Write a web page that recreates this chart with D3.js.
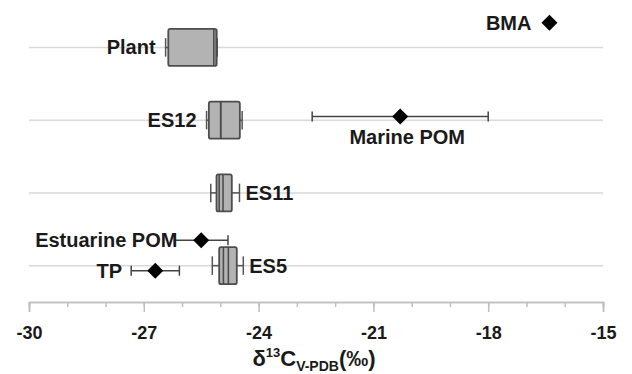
<!DOCTYPE html>
<html>
<head>
<meta charset="utf-8">
<script src="https://cdn.jsdelivr.net/npm/d3@7"></script>
<style>
  body { margin: 0; background: #fff; }
  text { font-family: "Liberation Sans", Arial, sans-serif; font-weight: bold; fill: #1a1a1a; }
</style>
</head>
<body>
<div id="chart"></div>
<script>
// box plots (δ13C, ‰)
const boxCats = ['Plant', 'ES12', 'ES11', 'ES5'];
const boxMin = [-26.43, -25.36, -25.25, -25.21];
const boxQ1 = [-26.36, -25.30, -25.10, -25.03];
const boxMedian = [-25.17, -24.99, -25.03, -24.92];
const boxMean = [-25.10, -24.99, -24.93, -24.79];
const boxQ3 = [-25.10, -24.49, -24.70, -24.57];
const boxMax = [-25.08, -24.43, -24.50, -24.40];

// end members (mean ± sd)
const pointNames = ['BMA', 'Marine POM', 'Estuarine POM', 'TP'];
const pointMean = [-16.4, -20.3, -25.5, -26.7];
const pointSd = [0, 2.3, 0.7, 0.63];
const pointRow = [-0.34, 0.95, 2.65, 3.07];

const majorTicks = [-30, -27, -24, -21, -18, -15];

const width = 632, height = 374;
const svg = d3.select('#chart').append('svg')
  .attr('width', width)
  .attr('height', height);

const x = d3.scaleLinear().domain([-30, -15]).range([29, 603]);
const y = d3.scaleLinear().domain([-0.5, 3.5]).range([11, 302]);
const boxH = 37;

// grid lines
svg.append('g').selectAll('line')
  .data(boxCats)
  .enter().append('line')
  .attr('x1', x(-30)).attr('x2', x(-15))
  .attr('y1', (d, i) => y(i)).attr('y2', (d, i) => y(i))
  .attr('stroke', '#d9d9d9').attr('stroke-width', 1.5);

// axis
const minorAxis = d3.axisBottom(x).tickValues(d3.range(-30, -14)).tickSize(5).tickFormat('');
const majorAxis = d3.axisBottom(x).tickValues(majorTicks).tickSize(10).tickPadding(14).tickFormat(d3.format('d'));
const gMinor = svg.append('g').attr('transform', `translate(0,${y(3.5)})`).call(minorAxis);
const gMajor = svg.append('g').attr('transform', `translate(0,${y(3.5)})`).call(majorAxis);
[gMinor, gMajor].forEach(g => {
  g.select('.domain').attr('stroke', '#bfbfbf').attr('stroke-width', 1.5);
  g.selectAll('.tick line').attr('stroke', '#bfbfbf').attr('stroke-width', 1.5);
});
gMajor.selectAll('.tick text')
  .style('font-size', '18px')
  .style('font-family', '"Liberation Sans", Arial, sans-serif')
  .style('font-weight', 'bold')
  .attr('fill', '#1a1a1a')
  .text(d => d3.format('d')(d).replace('−', '-'));

// axis title
const title = svg.append('text')
  .attr('x', 314).attr('y', 366)
  .attr('text-anchor', 'middle')
  .style('font-size', '22px');
title.append('tspan').text('δ');
title.append('tspan').attr('dy', -9).style('font-size', '13px').text('13');
title.append('tspan').attr('dy', 9).text('C');
title.append('tspan').attr('dy', 5).style('font-size', '14px').text('V-PDB');
title.append('tspan').attr('dy', -5).text('(‰)');

// boxes
const boxes = svg.append('g').selectAll('g')
  .data(boxCats)
  .enter().append('g');

boxes.append('line')
  .attr('x1', (d, i) => x(boxMin[i])).attr('x2', (d, i) => x(boxMax[i]))
  .attr('y1', (d, i) => y(i)).attr('y2', (d, i) => y(i))
  .attr('stroke', '#555').attr('stroke-width', 1.5);

[boxMin, boxMax].forEach(arr => {
  boxes.append('line')
    .attr('x1', (d, i) => x(arr[i])).attr('x2', (d, i) => x(arr[i]))
    .attr('y1', (d, i) => y(i) - boxH / 4).attr('y2', (d, i) => y(i) + boxH / 4)
    .attr('stroke', '#555').attr('stroke-width', 1.5);
});

boxes.append('rect')
  .attr('x', (d, i) => x(boxQ1[i]))
  .attr('width', (d, i) => x(boxQ3[i]) - x(boxQ1[i]))
  .attr('y', (d, i) => y(i) - boxH / 2)
  .attr('height', boxH)
  .attr('rx', 2)
  .attr('fill', '#b3b3b3')
  .attr('stroke', '#4d4d4d').attr('stroke-width', 1.8);

[boxMedian, boxMean].forEach(arr => {
  boxes.append('line')
    .attr('x1', (d, i) => x(arr[i])).attr('x2', (d, i) => x(arr[i]))
    .attr('y1', (d, i) => y(i) - boxH / 2).attr('y2', (d, i) => y(i) + boxH / 2)
    .attr('stroke', '#4d4d4d').attr('stroke-width', 1.6);
});

const boxSide = ['left', 'left', 'right', 'right'];
boxes.append('text')
  .attr('x', (d, i) => boxSide[i] === 'left' ? x(boxMin[i]) - 10 : x(boxMax[i]) + 6)
  .attr('y', (d, i) => y(i))
  .attr('dominant-baseline', 'central')
  .attr('text-anchor', (d, i) => boxSide[i] === 'left' ? 'end' : 'start')
  .style('font-size', '20px')
  .text(d => d);

// end-member points
const pts = svg.append('g').selectAll('g')
  .data(pointNames)
  .enter().append('g');

const withErr = pts.filter((d, i) => pointSd[i] > 0);
withErr.append('line')
  .attr('x1', d => x(pointMean[pointNames.indexOf(d)] - pointSd[pointNames.indexOf(d)]))
  .attr('x2', d => x(pointMean[pointNames.indexOf(d)] + pointSd[pointNames.indexOf(d)]))
  .attr('y1', d => y(pointRow[pointNames.indexOf(d)]))
  .attr('y2', d => y(pointRow[pointNames.indexOf(d)]))
  .attr('stroke', '#444').attr('stroke-width', 1.5);
[-1, 1].forEach(s => {
  withErr.append('line')
    .attr('x1', d => x(pointMean[pointNames.indexOf(d)] + s * pointSd[pointNames.indexOf(d)]))
    .attr('x2', d => x(pointMean[pointNames.indexOf(d)] + s * pointSd[pointNames.indexOf(d)]))
    .attr('y1', d => y(pointRow[pointNames.indexOf(d)]) - 5)
    .attr('y2', d => y(pointRow[pointNames.indexOf(d)]) + 5)
    .attr('stroke', '#444').attr('stroke-width', 1.5);
});

pts.append('path')
  .attr('d', 'M0,-8L8,0L0,8L-8,0Z')
  .attr('transform', (d, i) => `translate(${x(pointMean[i])},${y(pointRow[i])})`)
  .attr('fill', '#000');

pts.append('text')
  .attr('x', (d, i) => {
    if (d === 'Marine POM') return x(pointMean[i]) + 7;
    if (d === 'BMA') return x(pointMean[i]) - 18;
    if (d === 'Estuarine POM') return x(pointMean[i] - pointSd[i]) + 3;
    return x(pointMean[i] - pointSd[i]) - 9;
  })
  .attr('y', (d, i) => y(pointRow[i]) + (d === 'Marine POM' ? 21 : 0))
  .attr('dominant-baseline', 'central')
  .attr('text-anchor', d => d === 'Marine POM' ? 'middle' : 'end')
  .style('font-size', '20px')
  .text(d => d);
</script>
</body>
</html>
